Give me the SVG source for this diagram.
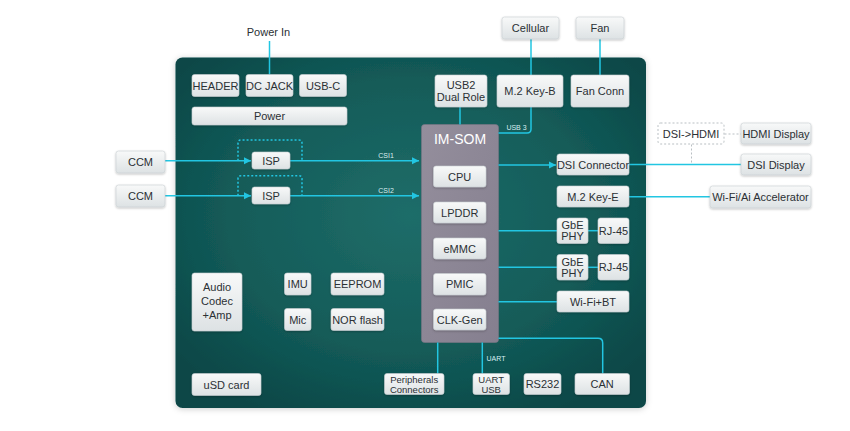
<svg xmlns="http://www.w3.org/2000/svg" width="850" height="431" viewBox="0 0 850 431">
<defs>
<radialGradient id="board" cx="0.5" cy="0.45" r="0.65">
<stop offset="0" stop-color="#1f6d69"/>
<stop offset="0.6" stop-color="#135b58"/>
<stop offset="1" stop-color="#094646"/>
</radialGradient>
<linearGradient id="box" x1="0" y1="0" x2="0" y2="1">
<stop offset="0" stop-color="#f8f9f9"/>
<stop offset="1" stop-color="#dde2e4"/>
</linearGradient>
<linearGradient id="som" x1="0" y1="0" x2="1" y2="1">
<stop offset="0" stop-color="#948e9c"/>
<stop offset="1" stop-color="#857f8f"/>
</linearGradient>
<filter id="sh" x="-20%" y="-20%" width="140%" height="150%">
<feDropShadow dx="0" dy="1" stdDeviation="1" flood-color="#000" flood-opacity="0.25"/>
</filter>
<filter id="bsh" x="-5%" y="-5%" width="110%" height="110%">
<feDropShadow dx="0" dy="1" stdDeviation="3" flood-color="#000" flood-opacity="0.2"/>
</filter>
<marker id="arr" markerWidth="8" markerHeight="8" refX="7" refY="4" orient="auto" markerUnits="userSpaceOnUse">
<path d="M0,0.5 L7,4 L0,7.5 Z" fill="#22c6e2"/>
</marker>
</defs>
<style>
.b rect{fill:url(#box);stroke:#c8cfd2;stroke-width:0.6;filter:url(#sh)}
.b text, .t{font-family:"Liberation Sans",Arial,sans-serif;font-size:11px;fill:#2b3034;text-anchor:middle}
.b text.s{font-size:9.5px}
.c{fill:none;stroke:#22c6e2;stroke-width:1.5}
.d{fill:none;stroke:#22c6e2;stroke-width:1.5;stroke-dasharray:2 2}
.g{fill:none;stroke:#b9bfc3;stroke-width:1;stroke-dasharray:2 2}
.lbl{font-family:"Liberation Sans",Arial,sans-serif;font-size:7px;fill:#d8eef0;text-anchor:middle}
</style>
<rect width="850" height="431" fill="#ffffff"/>
<rect id="board-bg" x="175.5" y="57.5" width="470.5" height="350.5" rx="7" fill="url(#board)" filter="url(#bsh)"/>
<g id="som">
<rect x="421.5" y="124.5" width="77" height="218" rx="3" fill="url(#som)" stroke="#7b7585" stroke-width="0.6"/>
<text x="460" y="144" font-family="'Liberation Sans',Arial,sans-serif" font-size="14" fill="#ffffff" text-anchor="middle">IM-SOM</text>
</g>
<g id="connectors">
<path class="c" d="M269.5 41 V74.5"/>
<path class="c" d="M531 39 V75"/>
<path class="c" d="M600 39 V75"/>
<path class="c" d="M460 107 V124.5"/>
<path class="c" d="M531 107 V129 Q531 133 527 133 H498.5"/>
<path class="c" d="M165 160.7 H251" marker-end="url(#arr)"/>
<path class="c" d="M290 160.7 H419" marker-end="url(#arr)"/>
<path class="d" d="M238 160.7 V143 Q238 140 241 140 H299 Q302 140 302 143 V160.7"/>
<path class="c" d="M165 195.7 H251" marker-end="url(#arr)"/>
<path class="c" d="M290 195.7 H419" marker-end="url(#arr)"/>
<path class="d" d="M238 195.7 V178.7 Q238 175.7 241 175.7 H299 Q302 175.7 302 178.7 V195.7"/>
<path class="c" d="M498.5 165 H556" marker-end="url(#arr)"/>
<path class="c" d="M629 164.5 H741"/>
<path class="g" d="M691.5 144.5 V164"/>
<path class="g" d="M724.5 134 H741"/>
<path class="c" d="M629 196.7 H710"/>
<path class="c" d="M498.5 230.7 H557"/>
<path class="c" d="M588 230.7 H598"/>
<path class="c" d="M498.5 267.3 H557"/>
<path class="c" d="M588 267.3 H598"/>
<path class="c" d="M498.5 301.7 H557"/>
<path class="c" d="M498.5 338.3 H598 Q602.7 338.3 602.7 343 V373.5"/>
<path class="c" d="M437.7 342.5 V373.5"/>
<path class="c" d="M482.3 342.5 V373.5"/>
<text class="lbl" x="386" y="157.5">CSI1</text>
<text class="lbl" x="386" y="192.5">CSI2</text>
<text class="lbl" x="516.5" y="130">USB 3</text>
<text class="lbl" x="496" y="361">UART</text>
</g>
<text class="t" x="268.5" y="36" font-size="12">Power In</text>
<g id="header" class="b"><rect x="192" y="74.5" width="47" height="22" rx="2.5"/><text x="215.5" y="89.5">HEADER</text></g>
<g id="dcjack" class="b"><rect x="246" y="74.5" width="47" height="22" rx="2.5"/><text x="269.5" y="89.5">DC JACK</text></g>
<g id="usbc" class="b"><rect x="299.5" y="74.5" width="47" height="22" rx="2.5"/><text x="323" y="89.5">USB-C</text></g>
<g id="power" class="b"><rect x="192" y="107" width="155" height="18" rx="2.5"/><text x="269.5" y="120">Power</text></g>
<g id="ccm1" class="b"><rect x="116" y="151" width="49" height="22" rx="2.5"/><text x="140.5" y="166">CCM</text></g>
<g id="ccm2" class="b"><rect x="116" y="185" width="49" height="22" rx="2.5"/><text x="140.5" y="200">CCM</text></g>
<g id="isp1" class="b"><rect x="252" y="152" width="38" height="17" rx="2.5"/><text x="271" y="164.5">ISP</text></g>
<g id="isp2" class="b"><rect x="252" y="187" width="38" height="17" rx="2.5"/><text x="271" y="199.5">ISP</text></g>
<g id="usb2" class="b"><rect x="435" y="75" width="52" height="32" rx="2.5"/><text x="461" y="88.5">USB2</text><text x="461" y="101">Dual Role</text></g>
<g id="m2keyb" class="b"><rect x="497" y="75" width="66" height="32" rx="2.5"/><text x="530" y="95">M.2 Key-B</text></g>
<g id="fanconn" class="b"><rect x="571" y="75" width="58" height="32" rx="2.5"/><text x="600" y="95">Fan Conn</text></g>
<g id="cellular" class="b"><rect x="502" y="17" width="57" height="22" rx="2.5"/><text x="530.5" y="32">Cellular</text></g>
<g id="fan" class="b"><rect x="576" y="17" width="48" height="22" rx="2.5"/><text x="600" y="32">Fan</text></g>
<g id="cpu" class="b"><rect x="433.5" y="166" width="52.5" height="21" rx="2.5"/><text x="459.7" y="180.5">CPU</text></g>
<g id="lpddr" class="b"><rect x="433.5" y="202" width="52.5" height="21" rx="2.5"/><text x="459.7" y="216.5">LPDDR</text></g>
<g id="emmc" class="b"><rect x="433.5" y="238" width="52.5" height="21" rx="2.5"/><text x="459.7" y="252.5">eMMC</text></g>
<g id="pmic" class="b"><rect x="433.5" y="273.5" width="52.5" height="21.5" rx="2.5"/><text x="459.7" y="288.3">PMIC</text></g>
<g id="clkgen" class="b"><rect x="433.5" y="309" width="52.5" height="21" rx="2.5"/><text x="459.7" y="323.5">CLK-Gen</text></g>
<g id="dsiconn" class="b"><rect x="557" y="154" width="72" height="21" rx="2.5"/><text x="593" y="168.5">DSI Connector</text></g>
<g id="m2keye" class="b"><rect x="557" y="186" width="72" height="21" rx="2.5"/><text x="593" y="200.5">M.2 Key-E</text></g>
<g id="gbe1" class="b"><rect x="557" y="218" width="31" height="25.5" rx="2.5"/><text x="572.5" y="229">GbE</text><text x="572.5" y="240">PHY</text></g>
<g id="rj1" class="b"><rect x="598" y="218" width="31" height="25.5" rx="2.5"/><text x="613.5" y="234.5">RJ-45</text></g>
<g id="gbe2" class="b"><rect x="557" y="254.5" width="31" height="25.5" rx="2.5"/><text x="572.5" y="265.5">GbE</text><text x="572.5" y="276.5">PHY</text></g>
<g id="rj2" class="b"><rect x="598" y="254.5" width="31" height="25.5" rx="2.5"/><text x="613.5" y="271">RJ-45</text></g>
<g id="wifibt" class="b"><rect x="557" y="291" width="72" height="21" rx="2.5"/><text x="593" y="305.5">Wi-Fi+BT</text></g>
<g id="dsihdmi"><rect x="658" y="123" width="66" height="21" rx="2.5" fill="#ffffff" stroke="#b9bfc3" stroke-width="1" stroke-dasharray="2 2"/><text class="t" x="691" y="137.5">DSI-&gt;HDMI</text></g>
<g id="hdmidisp" class="b"><rect x="741" y="123" width="70" height="21" rx="2.5"/><text x="776" y="137.5">HDMI Display</text></g>
<g id="dsidisp" class="b"><rect x="741" y="154" width="70" height="21" rx="2.5"/><text x="776" y="168.5">DSI Display</text></g>
<g id="wifiai" class="b"><rect x="710" y="186" width="101" height="22" rx="2.5"/><text x="760.5" y="201">Wi-Fi/Ai Accelerator</text></g>
<g id="audio" class="b"><rect x="192" y="273" width="50" height="58" rx="2.5"/><text x="217" y="291">Audio</text><text x="217" y="305">Codec</text><text x="217" y="319">+Amp</text></g>
<g id="imu" class="b"><rect x="284.5" y="273" width="26.5" height="22" rx="2.5"/><text x="297.7" y="288">IMU</text></g>
<g id="eeprom" class="b"><rect x="331" y="273" width="53" height="22" rx="2.5"/><text x="357.5" y="288">EEPROM</text></g>
<g id="mic" class="b"><rect x="284.5" y="308.5" width="26.5" height="22" rx="2.5"/><text x="297.7" y="323.5">Mic</text></g>
<g id="norflash" class="b"><rect x="331" y="308.5" width="53" height="22" rx="2.5"/><text x="357.5" y="323.5">NOR flash</text></g>
<g id="usd" class="b"><rect x="192" y="373.5" width="69" height="22" rx="2.5"/><text x="226.5" y="388.5">uSD card</text></g>
<g id="periph" class="b"><rect x="384.5" y="373.5" width="59.5" height="21" rx="2.5"/><text class="s" x="414.2" y="382.6">Peripherals</text><text class="s" x="414.2" y="393.4">Connectors</text></g>
<g id="uartusb" class="b"><rect x="473" y="373.5" width="36.5" height="21" rx="2.5"/><text class="s" x="491.2" y="382.6">UART</text><text class="s" x="491.2" y="393.4">USB</text></g>
<g id="rs232" class="b"><rect x="524" y="373.5" width="37" height="21" rx="2.5"/><text x="542.5" y="388">RS232</text></g>
<g id="can" class="b"><rect x="575" y="373.5" width="54.5" height="21" rx="2.5"/><text x="602.2" y="388">CAN</text></g>
</svg>
